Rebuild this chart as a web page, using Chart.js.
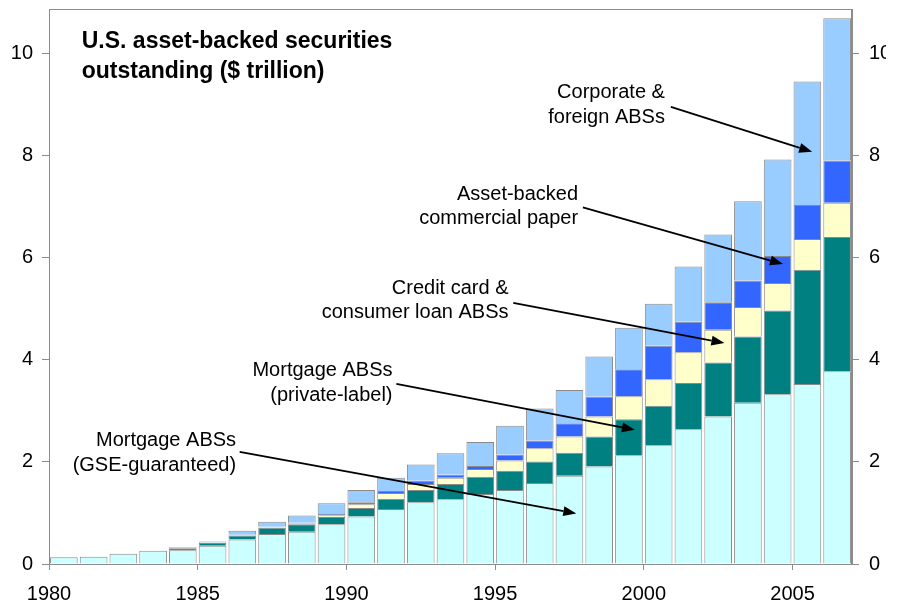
<!DOCTYPE html>
<html>
<head>
<meta charset="utf-8">
<script src="https://cdn.jsdelivr.net/npm/chart.js@4.4.1/dist/chart.umd.min.js"></script>
<style>
  html, body { margin: 0; padding: 0; background: #fff; }
  #wrap { position: relative; width: 886px; height: 608px; }
</style>
</head>
<body>
<div id="wrap"><canvas id="absChart"></canvas></div>
<script>
const years = ['1980', '1981', '1982', '1983', '1984', '1985', '1986', '1987', '1988', '1989',
  '1990', '1991', '1992', '1993', '1994', '1995', '1996', '1997', '1998', '1999',
  '2000', '2001', '2002', '2003', '2004', '2005', '2006'];

// $ trillion outstanding, stacked bottom to top
const gseMortgage = [0.13, 0.14, 0.20, 0.26, 0.27, 0.36, 0.48, 0.59, 0.63, 0.78,
  0.93, 1.08, 1.21, 1.27, 1.37, 1.45, 1.59, 1.73, 1.91, 2.13,
  2.33, 2.64, 2.89, 3.16, 3.33, 3.53, 3.78];
const privateMortgage = [null, null, null, null, 0.04, 0.05, 0.08, 0.12, 0.15, 0.14,
  0.17, 0.20, 0.24, 0.30, 0.34, 0.38, 0.42, 0.45, 0.59, 0.71,
  0.77, 0.91, 1.06, 1.30, 1.64, 2.24, 2.63];
const creditCard = [null, null, null, null, null, 0.01, 0.01, 0.01, 0.02, 0.03,
  0.07, 0.11, 0.12, 0.12, 0.15, 0.20, 0.26, 0.32, 0.39, 0.45,
  0.52, 0.60, 0.64, 0.58, 0.54, 0.60, 0.67];
const commercialPaper = [null, null, null, null, null, null, 0.01, 0.01, 0.01, 0.03,
  0.04, 0.04, 0.06, 0.06, 0.06, 0.11, 0.15, 0.26, 0.39, 0.53,
  0.66, 0.60, 0.54, 0.52, 0.53, 0.67, 0.83];
const corporateForeign = [null, null, null, null, 0.02, 0.02, 0.07, 0.10, 0.14, 0.21,
  0.24, 0.26, 0.32, 0.42, 0.47, 0.57, 0.63, 0.65, 0.79, 0.81,
  0.82, 1.08, 1.33, 1.55, 1.89, 2.42, 2.79];

const yTicks = [0, 2, 4, 6, 8, 10];
const yearTicks = [1980, 1985, 1990, 1995, 2000, 2005];

// callouts in data units: x = year, y = $ trillion
const callouts = [
  { lines: ['Corporate &', 'foreign ABSs'], x: 2000.71, y: [9.24, 8.76], from: [2000.91, 8.96], to: [2005.66, 8.08] },
  { lines: ['Asset-backed', 'commercial paper'], x: 1997.79, y: [7.24, 6.78], from: [1997.95, 6.99], to: [2004.68, 5.88] },
  { lines: ['Credit card &', 'consumer loan ABSs'], x: 1995.45, y: [5.41, 4.94], from: [1995.61, 5.12], to: [2002.71, 4.33] },
  { lines: ['Mortgage ABSs', '(private-label)'], x: 1991.55, y: [3.80, 3.31], from: [1991.68, 3.53], to: [1999.70, 2.63] },
  { lines: ['Mortgage ABSs', '(GSE-guaranteed)'], x: 1986.29, y: [2.43, 1.94], from: [1986.41, 2.20], to: [1997.73, 0.99] }
];
const titleLines = ['U.S. asset-backed securities', 'outstanding ($ trillion)'];
const titlePos = { x: 1981.1, y: [10.24, 9.65] };

const FONT = '"Liberation Sans", Arial, sans-serif';
const AXIS_GREY = '#8c8c8c';

function arrow(ctx, x1, y1, x2, y2) {
  const ang = Math.atan2(y2 - y1, x2 - x1);
  const head = 13, half = 5;
  const bx = x2 - head * Math.cos(ang), by = y2 - head * Math.sin(ang);
  ctx.beginPath();
  ctx.moveTo(x1, y1);
  ctx.lineTo(bx, by);
  ctx.stroke();
  ctx.beginPath();
  ctx.moveTo(x2, y2);
  ctx.lineTo(bx + half * Math.sin(ang), by - half * Math.cos(ang));
  ctx.lineTo(bx - half * Math.sin(ang), by + half * Math.cos(ang));
  ctx.closePath();
  ctx.fill();
}

const calloutPlugin = {
  id: 'callouts',
  afterDatasetsDraw(chart) {
    const { ctx, chartArea, scales } = chart;
    const px = v => scales.xYears.getPixelForValue(v);
    const py = v => scales.y.getPixelForValue(v);
    ctx.save();
    // frame round the plot
    ctx.strokeStyle = AXIS_GREY;
    ctx.lineWidth = 1;
    ctx.strokeRect(chartArea.left + 0.5, chartArea.top + 0.5,
      chartArea.right - chartArea.left - 1, chartArea.bottom - chartArea.top);

    ctx.fillStyle = '#000';
    ctx.textBaseline = 'middle';
    ctx.font = 'bold 23px ' + FONT;
    ctx.textAlign = 'left';
    titleLines.forEach((t, i) => ctx.fillText(t, px(titlePos.x), py(titlePos.y[i])));

    ctx.font = '20px ' + FONT;
    ctx.textAlign = 'right';
    ctx.strokeStyle = '#000';
    ctx.lineWidth = 1.8;
    callouts.forEach(c => {
      c.lines.forEach((t, i) => ctx.fillText(t, px(c.x), py(c.y[i])));
      arrow(ctx, px(c.from[0]), py(c.from[1]), px(c.to[0]), py(c.to[1]));
    });
    ctx.restore();
  }
};

function series(label, data, color) {
  return {
    label, data,
    backgroundColor: color,
    borderColor: '#8a8a8a',
    borderWidth: 1,
    barPercentage: 1,
    categoryPercentage: 0.93
  };
}

const yAxis = (position, pad, width) => ({
  position,
  min: 0,
  max: 10.88,
  afterFit(scale) {
    scale.width = width;
    scale.paddingTop = 0;
    scale.paddingBottom = 0;
  },
  afterBuildTicks(scale) { scale.ticks = yTicks.map(v => ({ value: v })); },
  grid: { drawOnChartArea: false, tickLength: 7, color: AXIS_GREY },
  border: { color: AXIS_GREY },
  ticks: { padding: pad, color: '#000', font: { family: FONT, size: 20 } }
});

new Chart(document.getElementById('absChart'), {
  type: 'bar',
  data: {
    labels: years,
    datasets: [
      series('Mortgage ABSs (GSE-guaranteed)', gseMortgage, '#ccffff'),
      series('Mortgage ABSs (private-label)', privateMortgage, '#008080'),
      series('Credit card & consumer loan ABSs', creditCard, '#ffffcc'),
      series('Asset-backed commercial paper', commercialPaper, '#3366ff'),
      series('Corporate & foreign ABSs', corporateForeign, '#99ccff')
    ]
  },
  options: {
    responsive: true,
    maintainAspectRatio: false,
    animation: false,
    layout: { padding: { top: 9, left: 0, right: 0, bottom: 0 } },
    plugins: { legend: { display: false }, tooltip: { enabled: false } },
    scales: {
      x: { display: false, stacked: true },
      xYears: {
        type: 'linear',
        position: 'bottom',
        offset: false,
        min: 1980,
        max: 2007,
        afterFit(scale) {
          scale.height = 44;
          scale.paddingLeft = 0;
          scale.paddingRight = 0;
        },
        afterBuildTicks(scale) { scale.ticks = yearTicks.map(v => ({ value: v })); },
        grid: { drawOnChartArea: false, offset: false, tickLength: 6, color: AXIS_GREY },
        border: { color: AXIS_GREY },
        ticks: {
          padding: 12,
          maxRotation: 0,
          color: '#000',
          font: { family: FONT, size: 20 },
          callback: v => String(v)
        }
      },
      y: { ...yAxis('left', 9, 49), stacked: true },
      y2: yAxis('right', 10, 34)
    }
  },
  plugins: [calloutPlugin]
});
</script>
</body>
</html>
